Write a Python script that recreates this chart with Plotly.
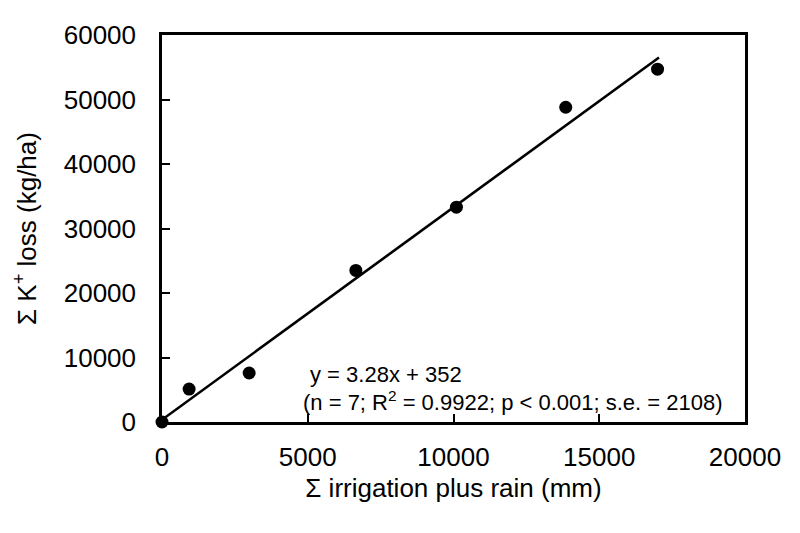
import plotly.graph_objects as go

# Data
irrigation_rain = [0, 930, 2990, 6650, 10100, 13850, 17000]
k_loss = [0, 5100, 7600, 23500, 33300, 48800, 54700]

# Regression line endpoints
fit_x = [0, 17050]
fit_y = [350, 56500]

eq_line1 = "y = 3.28x + 352"
eq_line2 = "(n = 7; R<sup>2</sup> = 0.9922; p < 0.001; s.e. = 2108)"

x_ticks = [0, 5000, 10000, 15000, 20000]
y_ticks = [0, 10000, 20000, 30000, 40000, 50000, 60000]

FONT = "Liberation Sans, Arial, sans-serif"

fig = go.Figure()
fig.add_trace(go.Scatter(x=fit_x, y=fit_y, mode="lines",
                         line=dict(color="black", width=2.6), showlegend=False,
                         cliponaxis=False))
fig.add_trace(go.Scatter(x=irrigation_rain, y=k_loss, mode="markers",
                         marker=dict(color="black", size=13), showlegend=False,
                         cliponaxis=False))

fig.add_annotation(x=0.250, y=0.124, xref="paper", yref="paper", xanchor="left",
                   yanchor="middle", text=eq_line1, showarrow=False,
                   font=dict(family=FONT, size=22, color="black"))
fig.add_annotation(x=0.238, y=0.054, xref="paper", yref="paper", xanchor="left",
                   yanchor="middle", text=eq_line2, showarrow=False,
                   font=dict(family=FONT, size=22, color="black"))

axis_common = dict(showgrid=False, zeroline=False, showline=True, linecolor="black",
                   linewidth=2.5, mirror=True, ticks="inside", ticklen=8, tickwidth=2,
                   tickcolor="black", tickfont=dict(family=FONT, size=26, color="black"))

fig.update_xaxes(range=[0, 20000], tickvals=x_ticks, ticktext=[str(v) for v in x_ticks],
                 ticklabelstandoff=10,
                 title=dict(text="Σ irrigation plus rain (mm)",
                            font=dict(family=FONT, size=26, color="black"), standoff=8),
                 **axis_common)
fig.update_yaxes(range=[0, 60000], tickvals=y_ticks, ticktext=[str(v) for v in y_ticks],
                 ticklabelstandoff=18,
                 title=dict(text="Σ K<sup>+</sup> loss (kg/ha)",
                            font=dict(family=FONT, size=26, color="black"), standoff=20),
                 **axis_common)

fig.update_layout(width=800, height=533, margin=dict(l=154, r=63, t=18, b=119),
                  plot_bgcolor="white", paper_bgcolor="white",
                  font=dict(family=FONT, color="black"))

fig.write_html("out.html")
